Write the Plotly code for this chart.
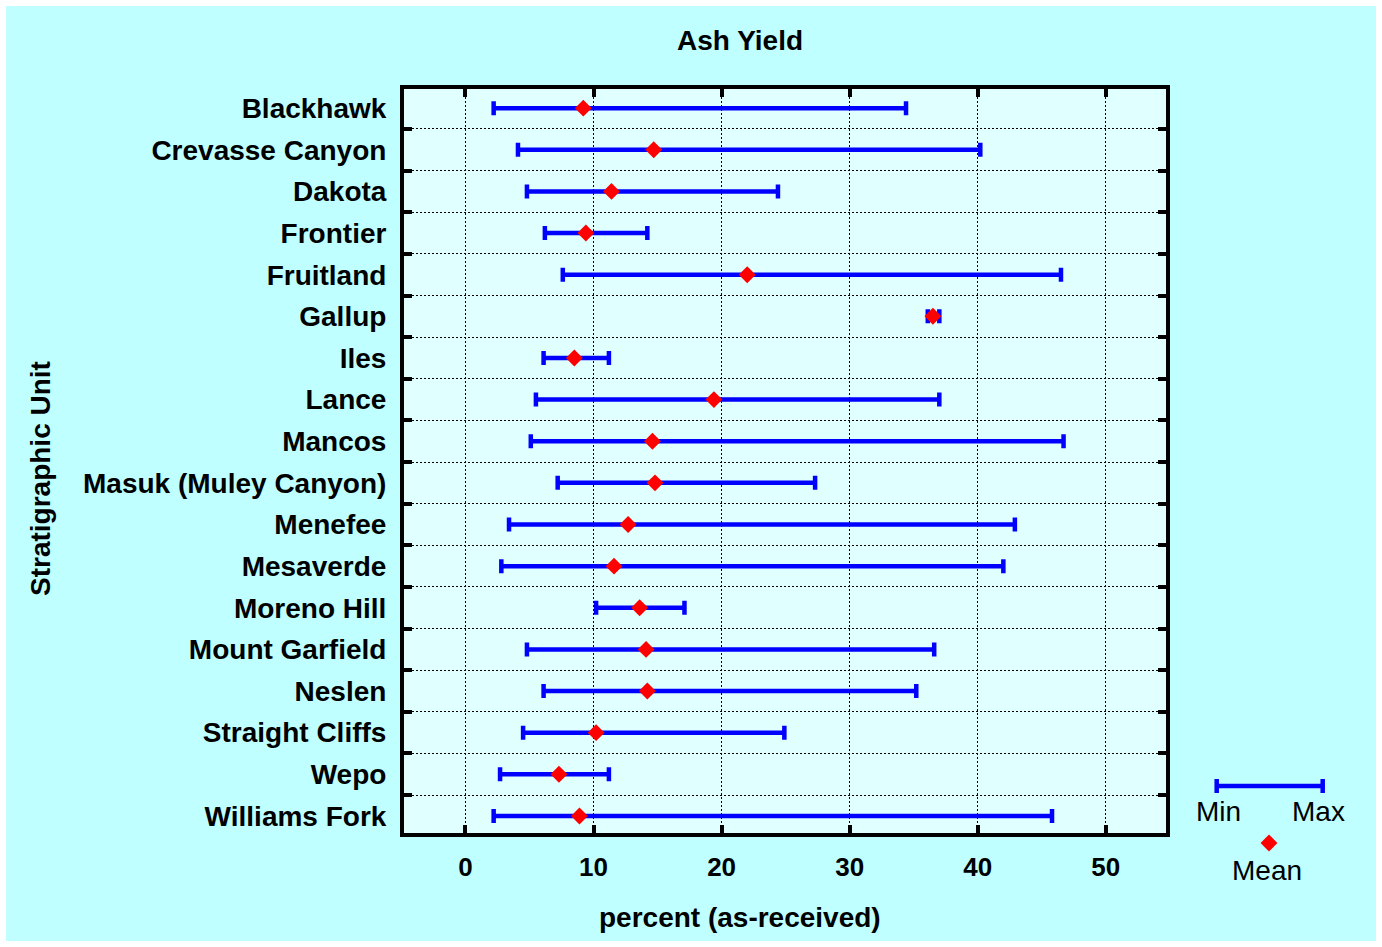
import plotly.graph_objects as go

# ---------------- data ----------------
UNITS = ["Blackhawk", "Crevasse Canyon", "Dakota", "Frontier", "Fruitland", "Gallup",
         "Iles", "Lance", "Mancos", "Masuk (Muley Canyon)", "Menefee", "Mesaverde",
         "Moreno Hill", "Mount Garfield", "Neslen", "Straight Cliffs", "Wepo",
         "Williams Fork"]
MIN_VALS = [2.2, 4.1, 4.8, 6.2, 7.6, 36.1, 6.1, 5.5, 5.1, 7.2, 3.4, 2.8, 10.2, 4.8,
            6.1, 4.5, 2.7, 2.2]
MEAN_VALS = [9.2, 14.7, 11.4, 9.4, 22.0, 36.5, 8.5, 19.4, 14.6, 14.8, 12.7, 11.6, 13.6,
             14.1, 14.2, 10.2, 7.3, 8.9]
MAX_VALS = [34.4, 40.2, 24.4, 14.2, 46.5, 37.0, 11.2, 37.0, 46.7, 27.3, 42.9, 42.0,
            17.1, 36.6, 35.2, 24.9, 11.2, 45.8]
X_TICKS = [0, 10, 20, 30, 40, 50]
X_RANGE = [-4.8, 54.7]
Y_RANGE = [17.41, -0.46]

TITLE = "Ash Yield"
X_TITLE = "percent (as-received)"
Y_TITLE = "Stratigraphic Unit"

# legend key (key panel uses page-pixel coordinates)
KEY_LINE_CENTER = [1269.7]
KEY_LINE_HALF = [53]
KEY_LINE_Y = [786]
KEY_MEAN_X = [1269]
KEY_MEAN_Y = [843]

FONT = "Liberation Sans, Arial, Helvetica, sans-serif"
BLUE = "#0000ff"
RED = "#ff0000"
OUTER_BG = "#bfffff"
INNER_BG = "#e0ffff"
FS = 28
FS_NUM = 26

err_plus = [mx - m for mx, m in zip(MAX_VALS, MEAN_VALS)]
err_minus = [m - mn for m, mn in zip(MEAN_VALS, MIN_VALS)]

W, H = 1382, 947
B = 6  # white page border
PW = W - 2 * B
PH = H - 2 * B


def px_x(p):
    return (p - B) / PW


def px_y(p):
    return (H - B - p) / PH


fig = go.Figure()

fig.add_trace(go.Scatter(
    x=MEAN_VALS, y=UNITS, mode="markers",
    marker=dict(symbol="diamond", size=13, color=RED, line=dict(width=0)),
    error_x=dict(type="data", symmetric=False, array=err_plus, arrayminus=err_minus,
                 color=BLUE, thickness=4.5, width=7),
    xaxis="x", yaxis="y", showlegend=False, cliponaxis=False,
))

# key panel
fig.add_trace(go.Scatter(
    x=KEY_LINE_CENTER, y=KEY_LINE_Y, mode="markers",
    marker=dict(size=1, color="rgba(0,0,0,0)"),
    error_x=dict(type="data", array=KEY_LINE_HALF, color=BLUE, thickness=4.5, width=7),
    xaxis="x2", yaxis="y2", showlegend=False, cliponaxis=False,
))
fig.add_trace(go.Scatter(
    x=KEY_MEAN_X, y=KEY_MEAN_Y, mode="markers",
    marker=dict(symbol="diamond", size=13, color=RED, line=dict(width=0)),
    xaxis="x2", yaxis="y2", showlegend=False, cliponaxis=False,
))

axis_common = dict(
    showline=True, linewidth=4, linecolor="black", mirror="allticks",
    ticks="inside", ticklen=8, tickwidth=4, tickcolor="black",
    showgrid=True, gridcolor="black", gridwidth=1, griddash="1.5px,2.5px",
    zeroline=False,
)

fig.update_layout(
    width=W, height=H,
    margin=dict(l=B, r=B, t=B, b=B, pad=0),
    paper_bgcolor="white",
    plot_bgcolor="rgba(0,0,0,0)",
    font=dict(family=FONT, size=FS, color="black"),
    xaxis=dict(axis_common, domain=[px_x(404), px_x(1166)], range=X_RANGE,
               tickvals=X_TICKS, ticktext=[str(t) for t in X_TICKS],
               ticklabelstandoff=8, anchor="y",
               tickfont=dict(family=FONT, size=FS_NUM, color="black", weight="bold")),
    yaxis=dict(axis_common, domain=[px_y(833), px_y(89)], type="category",
               categoryorder="array", categoryarray=UNITS, range=Y_RANGE,
               tickson="boundaries", ticklabelstandoff=8, anchor="x",
               tickfont=dict(family=FONT, size=FS, color="black", weight="bold")),
    xaxis2=dict(domain=[0, 1], range=[B, W - B], visible=False, anchor="y2"),
    yaxis2=dict(domain=[0, 1], range=[H - B, B], visible=False, anchor="x2"),
    showlegend=False,
)

shapes = [
    dict(type="rect", xref="paper", yref="paper", layer="below",
         x0=0, x1=1, y0=0, y1=1, fillcolor=OUTER_BG, line=dict(width=0)),
    dict(type="rect", xref="x domain", yref="y domain", layer="below",
         x0=0, x1=1, y0=0, y1=1, fillcolor=INNER_BG, line=dict(width=0)),
]
fig.update_layout(shapes=shapes)

txt = dict(family=FONT, size=FS, color="black")
annotations = [
    dict(text=f"<b>{TITLE}</b>", xref="paper", yref="paper", x=px_x(740), y=px_y(40),
         showarrow=False, xanchor="center", yanchor="middle", font=txt),
    dict(text=f"<b>{X_TITLE}</b>", xref="paper", yref="paper", x=px_x(740), y=px_y(917),
         showarrow=False, xanchor="center", yanchor="middle", font=txt),
    dict(text=f"<b>{Y_TITLE}</b>", xref="paper", yref="paper", x=px_x(40), y=px_y(479),
         showarrow=False, xanchor="center", yanchor="middle", textangle=-90, font=txt),
    dict(text="Min", xref="x2", yref="y2", x=1218, y=811, showarrow=False,
         xanchor="center", yanchor="middle", font=txt),
    dict(text="Max", xref="x2", yref="y2", x=1318, y=811, showarrow=False,
         xanchor="center", yanchor="middle", font=txt),
    dict(text="Mean", xref="x2", yref="y2", x=1267, y=870, showarrow=False,
         xanchor="center", yanchor="middle", font=txt),
]
fig.update_layout(annotations=annotations)

fig.write_html("out.html")
